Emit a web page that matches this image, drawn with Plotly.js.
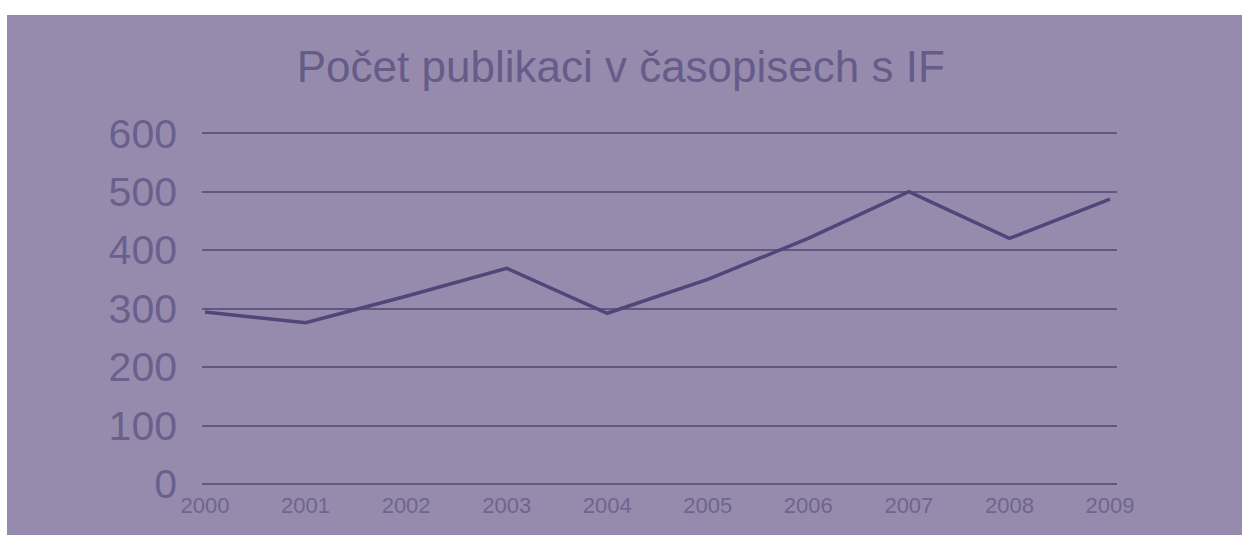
<!DOCTYPE html>
<html>
<head>
<meta charset="utf-8">
<script src="https://cdn.plot.ly/plotly-3.0.1.min.js"></script>
<style>
  html, body { margin: 0; padding: 0; background: #ffffff; width: 1242px; height: 536px; overflow: hidden; }
  #chart { position: absolute; left: 7px; top: 15px; width: 1235px; height: 520px; }
</style>
</head>
<body>
<div id="chart"></div>
<script>
const years = ["2000", "2001", "2002", "2003", "2004", "2005", "2006", "2007", "2008", "2009"];
const publications = [294, 276, 321, 369, 292, 350, 420, 500, 420, 487];
const yTicks = [0, 100, 200, 300, 400, 500, 600];
const titleText = "Počet publikaci v časopisech s IF";

const trace = {
  x: years,
  y: publications,
  type: "scatter",
  mode: "lines",
  line: { color: "#4f4679", width: 3.5 },
  hoverinfo: "skip"
};

const layout = {
  width: 1235,
  height: 520,
  paper_bgcolor: "#978bad",
  plot_bgcolor: "rgba(0,0,0,0)",
  margin: { l: 195, r: 125, t: 117, b: 51 },
  showlegend: false,
  title: {
    text: titleText,
    font: { family: "Liberation Sans, Arial, sans-serif", size: 44, color: "#665c89" },
    x: 0.497, xanchor: "center",
    y: 0.9, yref: "container", yanchor: "middle"
  },
  xaxis: {
    type: "category",
    range: [-0.03, 9.07],
    showgrid: false,
    zeroline: false,
    showline: false,
    ticks: "",
    ticklabelstandoff: 6,
    tickfont: { family: "Liberation Sans, Arial, sans-serif", size: 22, color: "#6e6590" }
  },
  yaxis: {
    range: [0, 602],
    tickvals: yTicks,
    ticktext: yTicks.map(String),
    showgrid: true,
    gridcolor: "#62577f",
    gridwidth: 2,
    zeroline: true,
    zerolinecolor: "#62577f",
    zerolinewidth: 2,
    showline: false,
    ticks: "",
    ticklabelstandoff: 24,
    tickfont: { family: "Liberation Sans, Arial, sans-serif", size: 41, color: "#6a608e" }
  }
};

Plotly.newPlot("chart", [trace], layout, { staticPlot: true, displayModeBar: false });
</script>
</body>
</html>
